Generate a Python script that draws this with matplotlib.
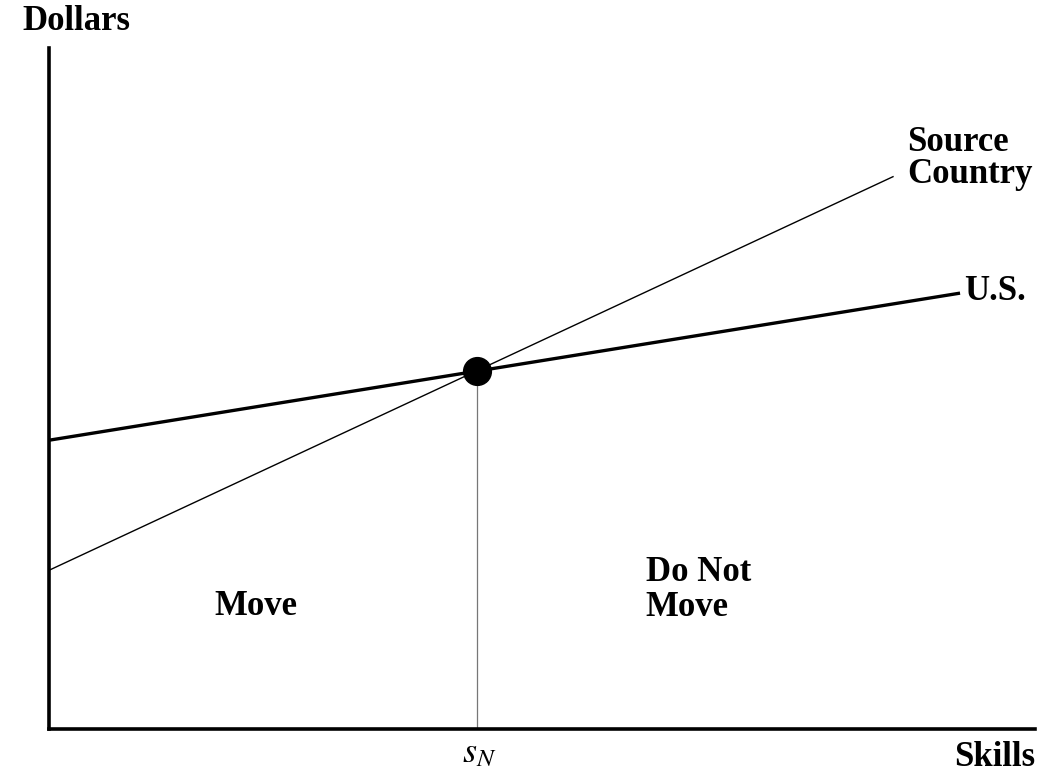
import matplotlib.pyplot as plt

plt.rcParams['mathtext.fontset'] = 'stix'

# skill axis 0..100, dollar axis 0..100
us_x = [0, 92.4]
us_y = [42.4, 64.0]
src_x = [0, 85.6]
src_y = [23.3, 81.1]
s_n = 43.4
w_n = 52.5

fig = plt.figure(figsize=(10.56, 7.75), dpi=100)
ax = fig.add_axes([0.0464, 0.0594, 0.9337, 0.8787])
ax.set_xlim(0, 100)
ax.set_ylim(0, 100)

serif = 'Liberation Serif'
fs = 25

ax.plot(us_x, us_y, color='black', lw=2.4, solid_capstyle='butt')
ax.plot(src_x, src_y, color='black', lw=1.0)
ax.plot([s_n, s_n], [0, w_n], color='#777777', lw=0.9)
ax.plot([s_n], [w_n], 'o', color='black', markersize=20)

for s in ['top', 'right']:
    ax.spines[s].set_visible(False)
ax.spines['left'].set_linewidth(2.6)
ax.spines['bottom'].set_linewidth(2.6)
ax.set_xticks([])
ax.set_yticks([])

ax.text(92.8, 64.2, 'U.S.', family=serif, fontweight='bold', fontsize=fs,
        va='center', ha='left')
ax.text(87.0, 83.8, 'Source\nCountry', family=serif, fontweight='bold', fontsize=fs,
        va='center', ha='left', linespacing=0.95)
ax.text(21.0, 18.0, 'Move', family=serif, fontweight='bold', fontsize=fs,
        va='center', ha='center')
ax.text(60.5, 20.4, 'Do Not\nMove', family=serif, fontweight='bold', fontsize=fs,
        va='center', ha='left', linespacing=1.05)

fig.text(76 / 1056, 1 - 22 / 775, 'Dollars', family=serif, fontweight='bold',
         fontsize=fs, ha='center', va='center')
fig.text(995 / 1056, 1 - 757 / 775, 'Skills', family=serif, fontweight='bold',
         fontsize=fs, ha='center', va='center')
ax.text(s_n + 0.2, -3.4, r'$s_N$', fontsize=26, ha='center', va='center')

fig.savefig('out.png', dpi=100, facecolor='white')
